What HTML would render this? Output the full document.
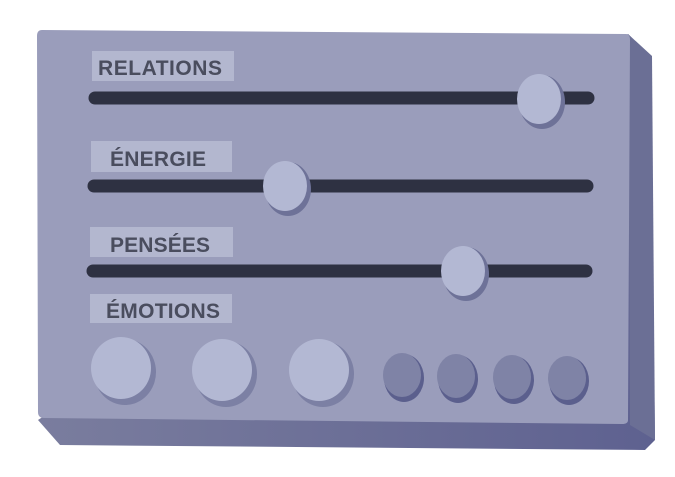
<!DOCTYPE html>
<html><head><meta charset="utf-8"><style>
html,body{margin:0;padding:0;background:#fff;width:675px;height:477px;overflow:hidden}
text{font-family:"Liberation Sans",sans-serif;font-weight:bold;fill:#4a4d5e}
</style></head><body>
<svg width="675" height="477" viewBox="0 0 675 477" xmlns="http://www.w3.org/2000/svg">
<defs>
<linearGradient id="bot" x1="0" y1="0" x2="1" y2="0"><stop offset="0" stop-color="#7a7d9e"/><stop offset="1" stop-color="#5e6190"/></linearGradient>
</defs>
<!-- side and bottom -->
<path d="M628,34 L650,56 L655,440 L645,450 L60,445 L38,420 Z" fill="url(#bot)"/>
<path d="M628,34 L652,56 L655,440 L630,425 Z" fill="#6b6f95"/>
<!-- front -->
<path d="M42,30 L626,34 Q630,34 630,40 L628,420 Q628,424 622,424 L44,418 Q38,418 38,412 L37,36 Q37,30 42,30 Z" fill="#9a9dbb"/>
<!-- labels -->
<rect x="92" y="51" width="142" height="30" fill="#b3b7cf"/>
<text x="98" y="75" font-size="21" textLength="124">RELATIONS</text>
<rect x="91" y="141" width="141" height="31" fill="#b3b7cf"/>
<text x="110" y="166" font-size="21" textLength="96">ÉNERGIE</text>
<rect x="90" y="227" width="143" height="30" fill="#b3b7cf"/>
<text x="110" y="252" font-size="21" textLength="100">PENSÉES</text>
<rect x="90" y="294" width="142" height="29" fill="#b3b7cf"/>
<text x="106" y="318" font-size="21" textLength="114">ÉMOTIONS</text>
<!-- tracks -->
<line x1="95" y1="98" x2="588" y2="98" stroke="#2e3142" stroke-width="13" stroke-linecap="round"/>
<line x1="94" y1="186" x2="587" y2="186" stroke="#2e3142" stroke-width="13" stroke-linecap="round"/>
<line x1="93" y1="271" x2="586" y2="271" stroke="#2e3142" stroke-width="13" stroke-linecap="round"/>
<!-- knobs -->
<g>
<ellipse cx="542" cy="102" rx="23" ry="27" fill="#6e7298"/><ellipse cx="539" cy="99" rx="22" ry="25" fill="#b3b8d3"/>
<ellipse cx="288" cy="189" rx="23" ry="27" fill="#6e7298"/><ellipse cx="285" cy="186" rx="22" ry="25" fill="#b3b8d3"/>
<ellipse cx="466" cy="274" rx="23" ry="27" fill="#6e7298"/><ellipse cx="463" cy="271" rx="22" ry="25" fill="#b3b8d3"/>
</g>
<!-- buttons -->
<g>
<ellipse cx="125" cy="372" rx="31" ry="33" fill="#7c80a4"/><ellipse cx="121" cy="368" rx="30" ry="31" fill="#b3b8d3"/>
<ellipse cx="226" cy="374" rx="31" ry="33" fill="#7c80a4"/><ellipse cx="222" cy="370" rx="30" ry="31" fill="#b3b8d3"/>
<ellipse cx="323" cy="374" rx="31" ry="33" fill="#7c80a4"/><ellipse cx="319" cy="370" rx="30" ry="31" fill="#b3b8d3"/>
<ellipse cx="404" cy="378" rx="20" ry="24" fill="#5b5f8d"/><ellipse cx="402" cy="375" rx="19" ry="22" fill="#7f83a6"/>
<ellipse cx="458" cy="379" rx="20" ry="24" fill="#5b5f8d"/><ellipse cx="456" cy="376" rx="19" ry="22" fill="#7f83a6"/>
<ellipse cx="514" cy="380" rx="20" ry="24" fill="#5b5f8d"/><ellipse cx="512" cy="377" rx="19" ry="22" fill="#7f83a6"/>
<ellipse cx="569" cy="381" rx="20" ry="24" fill="#5b5f8d"/><ellipse cx="567" cy="378" rx="19" ry="22" fill="#7f83a6"/>
</g>
</svg>
</body></html>
